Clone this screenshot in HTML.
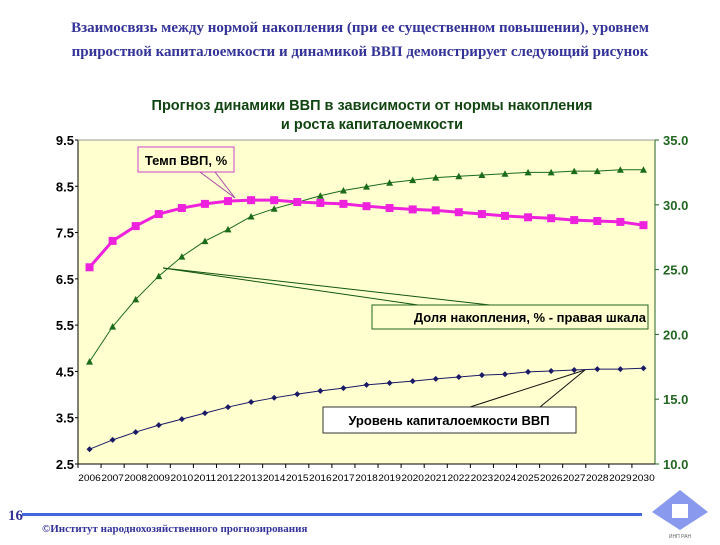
<!DOCTYPE html>
<html><head><meta charset="utf-8"><style>
body{margin:0;width:720px;height:540px;background:#fff;overflow:hidden;font-family:"Liberation Sans",sans-serif}
</style></head><body>
<svg width="720" height="540">
<text x="360" y="32" text-anchor="middle" font-family="Liberation Serif,serif" font-weight="bold" font-size="15" fill="#333399">Взаимосвязь между нормой накопления (при ее существенном повышении), уровнем</text>
<text x="360" y="56" text-anchor="middle" font-family="Liberation Serif,serif" font-weight="bold" font-size="15" fill="#333399">приростной капиталоемкости и динамикой ВВП демонстрирует следующий рисунок</text>
<text x="372" y="110" text-anchor="middle" font-weight="bold" font-size="14.5" fill="#114411">Прогноз динамики ВВП в зависимости от нормы накопления</text>
<text x="372" y="129" text-anchor="middle" font-weight="bold" font-size="14.5" fill="#114411">и роста капиталоемкости</text>
<rect x="78" y="140" width="577" height="324" fill="#ffffd0"/>
<g id="axes"></g>
<g id="series"></g>
<g>
<line x1="200" y1="172" x2="235" y2="198" stroke="#aa44aa" stroke-width="1"/>
<line x1="215" y1="172" x2="235" y2="198" stroke="#aa44aa" stroke-width="1"/>
<rect x="138" y="147" width="96" height="25" fill="#ffffd0" stroke="#cc44cc"/>
<text x="186" y="165" text-anchor="middle" font-weight="bold" font-size="13">Темп ВВП, %</text></g>
<g>
<line x1="163" y1="268" x2="418" y2="305" stroke="#115511"/>
<line x1="163" y1="268" x2="490" y2="305" stroke="#115511"/>
<rect x="372" y="305" width="276" height="24" fill="#ffffd0" stroke="#226622"/>
<text x="646" y="322" text-anchor="end" font-weight="bold" font-size="13">Доля накопления, % - правая шкала</text></g>
<g>
<line x1="585" y1="370" x2="540" y2="407" stroke="#111"/>
<line x1="585" y1="370" x2="470" y2="407" stroke="#111"/>
<rect x="323" y="407" width="253" height="26" fill="#fff" stroke="#333"/>
<text x="449" y="425" text-anchor="middle" font-weight="bold" font-size="13">Уровень капиталоемкости ВВП</text></g>
<text x="8" y="520" font-family="Liberation Serif,serif" font-weight="bold" font-size="15" fill="#333399">16</text>
<rect x="22" y="513" width="620" height="3" fill="#4466dd"/>
<text x="42" y="532" font-family="Liberation Serif,serif" font-weight="bold" font-size="11" fill="#333399">©Институт народнохозяйственного прогнозирования</text>
<g><polygon points="680,490 708,512 680,530 652,512" fill="#8899ee"/><rect x="672" y="504" width="16" height="14" fill="#fff"/><text x="680" y="538" text-anchor="middle" font-size="5" fill="#666">ИНП РАН</text></g>
</svg>
<script>
const years=["2006","2007","2008","2009","2010","2011","2012","2013","2014","2015","2016","2017","2018","2019","2020","2021","2022","2023","2024","2025","2026","2027","2028","2029","2030"];
const gdpGrowth=[6.75,7.32,7.64,7.9,8.03,8.12,8.18,8.2,8.2,8.16,8.14,8.12,8.07,8.03,8.0,7.98,7.94,7.9,7.86,7.83,7.81,7.77,7.75,7.73,7.66];
const savingsShare=[17.9,20.6,22.7,24.5,26.0,27.2,28.1,29.1,29.7,30.2,30.7,31.1,31.4,31.7,31.9,32.1,32.2,32.3,32.4,32.5,32.5,32.6,32.6,32.7,32.7];
const capitalIntensity=[2.82,3.02,3.19,3.34,3.47,3.6,3.73,3.84,3.93,4.01,4.08,4.14,4.21,4.25,4.29,4.34,4.38,4.42,4.44,4.49,4.51,4.53,4.55,4.55,4.57];
const leftTicks=["2.5","3.5","4.5","5.5","6.5","7.5","8.5","9.5"];
const rightTicks=["10.0","15.0","20.0","25.0","30.0","35.0"];
const NS="http://www.w3.org/2000/svg";
const L=78,R=655,T=140,B=464;
const cw=(R-L)/years.length;
const xs=i=>L+cw*(i+0.5);
const yl=v=>B-(v-2.5)/7*(B-T);
const yr=v=>B-(v-10)/25*(B-T);
function mk(t,a,p){const e=document.createElementNS(NS,t);for(const k in a)e.setAttribute(k,a[k]);p.appendChild(e);return e;}
const ax=document.getElementById('axes'),sg=document.getElementById('series');
let e=mk('line',{x1:L,y1:T,x2:L,y2:B,stroke:'#000'},ax);


e=mk('line',{x1:R,y1:T,x2:R,y2:B,stroke:'#226622'},ax);


e=mk('line',{x1:L,y1:B,x2:R,y2:B,stroke:'#000'},ax);


mk('line',{x1:L,y1:T,x2:R,y2:T,stroke:'#999'},ax);
leftTicks.forEach(t=>{const y=yl(parseFloat(t));
mk('line',{x1:L-3,y1:y,x2:L,y2:y,stroke:'#000'},ax);
const tx=mk('text',{x:L-4,y:y+5,'text-anchor':'end','font-size':13,'font-weight':'bold'},ax);tx.textContent=t;

});
rightTicks.forEach(t=>{const y=yr(parseFloat(t));
mk('line',{x1:R,y1:y,x2:R+4,y2:y,stroke:'#226622'},ax);
const tx=mk('text',{x:R+8,y:y+5,'font-size':13,'font-weight':'bold',fill:'#226622'},ax);tx.textContent=t;

});
years.forEach((yv,i)=>{mk('line',{x1:L+cw*i,y1:B,x2:L+cw*i,y2:B+4,stroke:'#000'},ax);
const tx=mk('text',{x:xs(i),y:B+17,'text-anchor':'middle','font-size':9.2,textLength:cw-0.5,lengthAdjust:'spacingAndGlyphs'},ax);tx.textContent=yv;

});
function series(vals,yf,color,w,shape,name){
const p=mk('polyline',{points:vals.map((v,i)=>xs(i)+','+yf(v)).join(' '),fill:'none',stroke:color,'stroke-width':w},sg);


vals.forEach((v,i)=>{const x=xs(i),y=yf(v);let m;
if(shape==='sq')m=mk('rect',{x:x-4,y:y-4,width:8,height:8,fill:color},sg);
else if(shape==='tri')m=mk('polygon',{points:`${x},${y-3.5} ${x+3.5},${y+3} ${x-3.5},${y+3}`,fill:color},sg);
else m=mk('polygon',{points:`${x},${y-3} ${x+3},${y} ${x},${y+3} ${x-3},${y}`,fill:color},sg);

});}
series(savingsShare,yr,'#1a6b1a',1,'tri','savings-share');
series(capitalIntensity,yl,'#1a1a66',1,'dia','capital-intensity');
series(gdpGrowth,yl,'#ee22dd',3,'sq','gdp-growth');
</script>
</body></html>
